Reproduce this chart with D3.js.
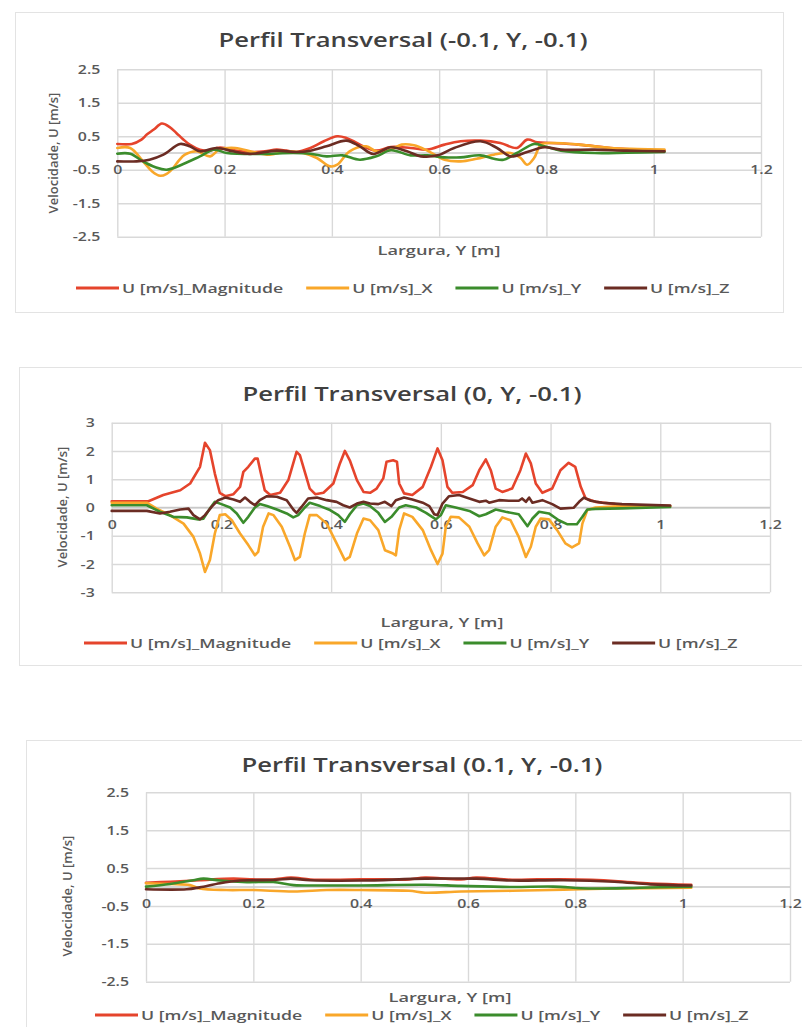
<!DOCTYPE html>
<html><head><meta charset="utf-8">
<script src="https://cdn.jsdelivr.net/npm/d3@7"></script>
<style>
html,body{margin:0;padding:0;background:#fff;}
svg{display:block;}
text{font-family:"Open Sans","Noto Sans",sans-serif;}
</style></head>
<body>
<svg id="chart" width="802" height="1027"></svg>
<script>
// ---------- DATA ----------
const seriesNames = ["U [m/s]_Magnitude", "U [m/s]_X", "U [m/s]_Y", "U [m/s]_Z"];
const xTickValues = [0, 0.2, 0.4, 0.6, 0.8, 1, 1.2];
const yTicksA = [2.5, 1.5, 0.5, -0.5, -1.5, -2.5];
const yTicksB = [3, 2, 1, 0, -1, -2, -3];
const titles = ["Perfil Transversal (-0.1, Y, -0.1)", "Perfil Transversal (0, Y, -0.1)", "Perfil Transversal (0.1, Y, -0.1)"];
const xAxisTitle = "Largura, Y [m]";
const yAxisTitle = "Velocidade, U [m/s]";

// Chart 1: (-0.1, Y, -0.1)
const c1Mag = [[0,0.27],[0.027,0.27],[0.045,0.4],[0.055,0.55],[0.068,0.7],[0.083,0.88],[0.097,0.78],[0.11,0.6],[0.122,0.42],[0.135,0.25],[0.154,0.1],[0.173,0.07],[0.185,0.15],[0.2,0.15],[0.22,0.07],[0.25,0.03],[0.275,0.05],[0.297,0.1],[0.315,0.07],[0.334,0.03],[0.36,0.15],[0.385,0.35],[0.41,0.5],[0.427,0.45],[0.443,0.33],[0.458,0.2],[0.483,0.07],[0.51,0.18],[0.547,0.15],[0.578,0.1],[0.61,0.25],[0.64,0.35],[0.677,0.37],[0.714,0.3],[0.745,0.15],[0.764,0.4],[0.783,0.32],[0.808,0.3],[0.86,0.25],[0.92,0.15],[0.97,0.1],[1.02,0.07]];
const c1X = [[0,0.15],[0.024,0.15],[0.048,-0.25],[0.065,-0.55],[0.08,-0.68],[0.092,-0.62],[0.104,-0.45],[0.115,-0.22],[0.126,-0.05],[0.148,0.05],[0.173,-0.1],[0.19,0.1],[0.22,0.15],[0.253,0.03],[0.284,-0.05],[0.315,0.05],[0.347,0],[0.372,-0.15],[0.397,-0.4],[0.41,-0.35],[0.433,0.05],[0.464,0.2],[0.483,0.05],[0.51,0.1],[0.53,0.25],[0.553,0.23],[0.578,0.07],[0.61,-0.2],[0.64,-0.25],[0.67,-0.17],[0.702,-0.05],[0.733,0],[0.752,-0.15],[0.764,-0.35],[0.777,-0.15],[0.79,0.25],[0.814,0.3],[0.86,0.25],[0.92,0.15],[0.97,0.12],[1.02,0.1]];
const c1Y = [[0,-0.02],[0.024,-0.02],[0.048,-0.25],[0.07,-0.42],[0.092,-0.5],[0.123,-0.33],[0.154,-0.1],[0.18,0.1],[0.204,0],[0.266,-0.03],[0.328,0],[0.36,-0.02],[0.39,-0.1],[0.42,-0.07],[0.452,-0.2],[0.483,-0.1],[0.51,0.08],[0.547,-0.07],[0.578,-0.07],[0.61,-0.13],[0.64,-0.13],[0.677,-0.07],[0.702,-0.17],[0.72,-0.2],[0.745,0],[0.777,0.27],[0.796,0.2],[0.827,0.07],[0.89,0],[0.95,0.01],[1.02,0.03]];
const c1Z = [[0,-0.25],[0.036,-0.25],[0.06,-0.2],[0.086,-0.05],[0.117,0.27],[0.135,0.2],[0.154,0.05],[0.185,0.15],[0.216,0.05],[0.247,-0.03],[0.297,0.07],[0.334,0.03],[0.36,0.07],[0.39,0.2],[0.427,0.37],[0.452,0.2],[0.477,-0.03],[0.51,0.17],[0.54,0.05],[0.566,-0.1],[0.597,-0.07],[0.628,0.15],[0.677,0.35],[0.708,0.15],[0.733,-0.1],[0.764,0.03],[0.796,0.17],[0.827,0.1],[0.89,0.1],[0.95,0.07],[1.02,0.05]];

// Chart 2: (0, Y, -0.1)
const c2Mag = [[0,0.22],[0.067,0.22],[0.094,0.44],[0.125,0.61],[0.143,0.85],[0.161,1.44],[0.17,2.29],[0.179,2.03],[0.188,1.2],[0.197,0.52],[0.207,0.4],[0.222,0.47],[0.234,0.73],[0.24,1.26],[0.249,1.44],[0.261,1.73],[0.266,1.73],[0.272,1.2],[0.279,0.61],[0.289,0.44],[0.307,0.52],[0.322,0.97],[0.337,1.97],[0.343,1.85],[0.352,1.26],[0.361,0.67],[0.371,0.47],[0.386,0.52],[0.404,0.85],[0.416,1.56],[0.425,2.0],[0.434,1.67],[0.447,0.97],[0.459,0.55],[0.471,0.52],[0.483,0.67],[0.495,1.03],[0.501,1.62],[0.513,1.67],[0.52,1.62],[0.524,0.85],[0.533,0.5],[0.548,0.44],[0.567,0.73],[0.582,1.44],[0.594,2.09],[0.603,1.67],[0.612,0.73],[0.621,0.52],[0.64,0.55],[0.658,0.79],[0.67,1.32],[0.682,1.7],[0.691,1.32],[0.7,0.67],[0.712,0.55],[0.73,0.67],[0.745,1.32],[0.755,1.91],[0.764,1.56],[0.773,0.85],[0.785,0.52],[0.803,0.67],[0.818,1.32],[0.833,1.58],[0.845,1.44],[0.855,0.73],[0.864,0.32],[0.882,0.2],[0.918,0.12],[0.96,0.07],[1.018,0.05]];
const c2X = [[0,0.17],[0.064,0.17],[0.082,-0.04],[0.106,-0.27],[0.131,-0.57],[0.149,-1.04],[0.161,-1.63],[0.17,-2.28],[0.179,-1.86],[0.188,-0.92],[0.197,-0.27],[0.207,-0.24],[0.219,-0.45],[0.234,-0.92],[0.249,-1.33],[0.261,-1.69],[0.267,-1.57],[0.276,-0.68],[0.286,-0.21],[0.295,-0.27],[0.31,-0.68],[0.325,-1.39],[0.334,-1.86],[0.343,-1.75],[0.352,-0.92],[0.361,-0.27],[0.374,-0.27],[0.392,-0.57],[0.41,-1.27],[0.425,-1.86],[0.434,-1.75],[0.447,-0.92],[0.459,-0.39],[0.471,-0.45],[0.486,-0.8],[0.498,-1.51],[0.513,-1.63],[0.518,-1.69],[0.524,-0.8],[0.533,-0.21],[0.548,-0.33],[0.567,-0.8],[0.582,-1.51],[0.594,-2.0],[0.603,-1.63],[0.609,-0.68],[0.618,-0.33],[0.633,-0.35],[0.652,-0.68],[0.667,-1.27],[0.679,-1.69],[0.688,-1.51],[0.7,-0.68],[0.712,-0.35],[0.727,-0.45],[0.742,-1.04],[0.755,-1.75],[0.764,-1.39],[0.773,-0.68],[0.782,-0.39],[0.797,-0.42],[0.812,-0.8],[0.827,-1.27],[0.839,-1.41],[0.852,-1.27],[0.858,-0.57],[0.867,-0.09],[0.882,0],[0.93,0.05],[1.018,0.05]];
const c2Y = [[0,0.08],[0.064,0.08],[0.088,-0.15],[0.112,-0.33],[0.137,-0.35],[0.158,-0.42],[0.167,-0.4],[0.179,-0.04],[0.188,0.2],[0.2,0.12],[0.216,0],[0.228,-0.21],[0.24,-0.54],[0.249,-0.33],[0.261,0],[0.27,0.12],[0.283,0.05],[0.301,-0.07],[0.319,-0.21],[0.331,-0.35],[0.34,-0.27],[0.352,0],[0.361,0.17],[0.38,0.05],[0.398,-0.09],[0.413,-0.27],[0.425,-0.51],[0.434,-0.24],[0.447,0.08],[0.459,0.14],[0.471,0.05],[0.486,-0.19],[0.498,-0.51],[0.51,-0.33],[0.524,0],[0.536,0.08],[0.555,0],[0.573,-0.19],[0.591,-0.42],[0.6,-0.27],[0.609,0.08],[0.627,0],[0.652,-0.12],[0.67,-0.31],[0.682,-0.24],[0.7,-0.07],[0.718,-0.15],[0.742,-0.24],[0.758,-0.66],[0.767,-0.39],[0.779,-0.15],[0.797,-0.21],[0.815,-0.45],[0.83,-0.59],[0.848,-0.59],[0.858,-0.33],[0.867,-0.07],[0.882,-0.05],[0.93,-0.03],[1.018,0.02]];
const c2Z = [[0,-0.12],[0.064,-0.12],[0.088,-0.21],[0.106,-0.15],[0.125,-0.07],[0.14,-0.04],[0.149,-0.27],[0.161,-0.42],[0.17,-0.27],[0.182,0.02],[0.194,0.26],[0.207,0.35],[0.222,0.28],[0.234,0.2],[0.243,0.35],[0.252,0.2],[0.261,0.08],[0.27,0.26],[0.283,0.4],[0.301,0.38],[0.319,0.26],[0.331,-0.07],[0.337,-0.19],[0.346,0.02],[0.358,0.32],[0.374,0.35],[0.392,0.26],[0.41,0.2],[0.422,0.08],[0.434,0],[0.447,0.14],[0.459,0.2],[0.471,0.14],[0.486,0.12],[0.498,0.2],[0.51,0.05],[0.518,0.26],[0.533,0.35],[0.548,0.28],[0.567,0.17],[0.579,0.05],[0.588,-0.24],[0.594,-0.27],[0.603,0.14],[0.615,0.4],[0.633,0.44],[0.652,0.32],[0.67,0.2],[0.682,0.24],[0.688,0.17],[0.706,0.26],[0.724,0.24],[0.742,0.24],[0.748,0.32],[0.755,0.2],[0.761,0.35],[0.767,0.17],[0.785,0.26],[0.803,0.12],[0.818,-0.04],[0.842,-0.01],[0.852,0.2],[0.861,0.35],[0.873,0.24],[0.894,0.17],[0.93,0.12],[1.018,0.07]];

// Chart 3: (0.1, Y, -0.1)
const c3Mag = [[0,0.11],[0.045,0.14],[0.1,0.18],[0.163,0.22],[0.2,0.2],[0.237,0.2],[0.27,0.25],[0.306,0.2],[0.35,0.19],[0.4,0.2],[0.444,0.2],[0.49,0.2],[0.52,0.25],[0.587,0.2],[0.615,0.25],[0.682,0.19],[0.73,0.2],[0.778,0.2],[0.873,0.16],[0.94,0.09],[1.016,0.06]];
const c3X = [[0,0.1],[0.045,0.08],[0.082,0.05],[0.1,-0.04],[0.15,-0.08],[0.2,-0.08],[0.275,-0.12],[0.337,-0.08],[0.4,-0.08],[0.49,-0.1],[0.52,-0.15],[0.587,-0.12],[0.682,-0.1],[0.778,-0.07],[0.873,-0.04],[1.016,-0.02]];
const c3Y = [[0,0.01],[0.045,0.08],[0.088,0.18],[0.107,0.22],[0.138,0.17],[0.188,0.13],[0.237,0.13],[0.275,0.05],[0.337,0.04],[0.4,0.04],[0.52,0.06],[0.587,0.03],[0.682,0],[0.759,0.01],[0.825,-0.04],[0.92,-0.02],[1.016,0.01]];
const c3Z = [[0,-0.06],[0.076,-0.06],[0.1,-0.01],[0.138,0.1],[0.175,0.17],[0.2,0.18],[0.243,0.19],[0.27,0.22],[0.306,0.18],[0.4,0.17],[0.52,0.22],[0.615,0.22],[0.682,0.17],[0.778,0.18],[0.873,0.14],[0.94,0.07],[1.016,0.04]];

// ---------- STYLE / LAYOUT ----------
const colors = ["#e5442c", "#f9a72a", "#3b8c2c", "#6b2c23"];
const svg = d3.select("#chart");

function stretch(sel, k) {
  sel.each(function () {
    const w = this.getComputedTextLength();
    d3.select(this).attr("textLength", w * k).attr("lengthAdjust", "spacingAndGlyphs");
  });
}

function drawChart(cfg) {
  const g = svg.append("g");
  // frame
  g.append("rect").attr("x", cfg.frame[0] + 0.5).attr("y", cfg.frame[1] + 0.5)
    .attr("width", cfg.frame[2]).attr("height", cfg.frame[3])
    .attr("fill", "#fff").attr("stroke", "#e3e3e3").attr("stroke-width", 1);

  const x = d3.scaleLinear().domain([0, 1.2]).range([cfg.left, cfg.right]);
  const y = d3.scaleLinear().domain(cfg.yDomain).range([cfg.bottom, cfg.top]);

  // vertical gridlines
  const gx = g.append("g").attr("transform", `translate(0,${cfg.bottom})`)
    .call(d3.axisBottom(x).tickValues(xTickValues).tickSize(-(cfg.bottom - cfg.top)).tickFormat(""));
  gx.select(".domain").remove();
  gx.selectAll("line").attr("stroke", "#d9d9d9").attr("stroke-width", 1.4);

  // horizontal gridlines + y labels
  const gy = g.append("g").attr("transform", `translate(${cfg.left},0)`)
    .call(d3.axisLeft(y).tickValues(cfg.yTicks).tickSize(-(cfg.right - cfg.left)).tickPadding(17).tickFormat(d => String(d)));
  gy.select(".domain").remove();
  gy.selectAll("line").attr("stroke", "#d9d9d9").attr("stroke-width", 1.4);
  gy.selectAll("text").attr("fill", "#595959").attr("font-size", 13).attr("font-weight", 600)
    .attr("font-family", '"Open Sans", sans-serif');
  stretch(gy.selectAll("text"), 1.22);

  // zero axis line
  g.append("line").attr("x1", cfg.left).attr("x2", cfg.right)
    .attr("y1", y(0)).attr("y2", y(0)).attr("stroke", "#c9c9c9").attr("stroke-width", 1.5);

  // x labels next to zero axis
  const gxl = g.append("g").attr("transform", `translate(0,${y(0)})`)
    .call(d3.axisBottom(x).tickValues(xTickValues).tickSize(0).tickPadding(12).tickFormat(d => String(d)));
  gxl.select(".domain").remove();
  gxl.selectAll("text").attr("fill", "#595959").attr("font-size", 13).attr("font-weight", 600)
    .attr("font-family", '"Open Sans", sans-serif');
  stretch(gxl.selectAll("text"), 1.22);

  // series
  const line = d3.line().x(d => x(d[0])).y(d => y(d[1])).curve(cfg.curve);
  cfg.series.forEach((s, i) => {
    g.append("path").datum(s).attr("d", line).attr("fill", "none")
      .attr("stroke", colors[i]).attr("stroke-width", 2.6)
      .attr("stroke-linejoin", "round").attr("stroke-linecap", "round");
  });

  // title
  const t = g.append("text").attr("x", cfg.titleX).attr("y", cfg.titleY).attr("text-anchor", "middle")
    .attr("dominant-baseline", "central").attr("font-size", 20).attr("font-weight", 600).attr("fill", "#404040")
    .text(cfg.title);
  stretch(t, 1.28);

  // axis titles
  const xt = g.append("text").attr("x", cfg.xLabelX).attr("y", cfg.xLabelY).attr("text-anchor", "middle")
    .attr("dominant-baseline", "central").attr("font-size", 13).attr("font-weight", 600).attr("fill", "#595959")
    .text(xAxisTitle);
  stretch(xt, 1.4);
  g.append("text").attr("transform", `translate(${cfg.yLabelX},${cfg.yLabelY}) rotate(-90)`)
    .attr("text-anchor", "middle").attr("dominant-baseline", "central")
    .attr("font-size", 13).attr("font-weight", 600).attr("fill", "#595959")
    .text(yAxisTitle);

  // legend
  let lx = cfg.legendX;
  seriesNames.forEach((name, i) => {
    g.append("line").attr("x1", lx).attr("x2", lx + 43).attr("y1", cfg.legendY).attr("y2", cfg.legendY)
      .attr("stroke", colors[i]).attr("stroke-width", 3);
    const tx = g.append("text").attr("x", lx + 46).attr("y", cfg.legendY).attr("dominant-baseline", "central")
      .attr("font-size", 13).attr("font-weight", 600).attr("fill", "#595959").text(name);
    stretch(tx, 1.36);
    lx += 46 + tx.node().getComputedTextLength() + 23;
  });
}

drawChart({
  frame: [15, 12, 768, 300],
  left: 117.3, right: 761, top: 69.3, bottom: 236.7,
  yDomain: [-2.5, 2.5], yTicks: yTicksA,
  title: titles[0], titleX: 403, titleY: 39,
  xLabelX: 439, xLabelY: 250, yLabelX: 53, yLabelY: 153,
  legendX: 76, legendY: 288,
  curve: d3.curveCatmullRom.alpha(0.5),
  series: [c1Mag, c1X, c1Y, c1Z]
});
drawChart({
  frame: [19, 367, 790, 298],
  left: 111.7, right: 770, top: 422.7, bottom: 592.3,
  yDomain: [-3, 3], yTicks: yTicksB,
  title: titles[1], titleX: 412, titleY: 393,
  xLabelX: 442, xLabelY: 622, yLabelX: 62, yLabelY: 507,
  legendX: 84, legendY: 643,
  curve: d3.curveLinear,
  series: [c2Mag, c2X, c2Y, c2Z]
});
drawChart({
  frame: [26, 740, 790, 300],
  left: 146, right: 790, top: 792.3, bottom: 981.7,
  yDomain: [-2.5, 2.5], yTicks: yTicksA,
  title: titles[2], titleX: 422, titleY: 764,
  xLabelX: 450, xLabelY: 997, yLabelX: 67, yLabelY: 896,
  legendX: 95, legendY: 1015,
  curve: d3.curveCatmullRom.alpha(0.5),
  series: [c3Mag, c3X, c3Y, c3Z]
});
</script>
</body></html>
